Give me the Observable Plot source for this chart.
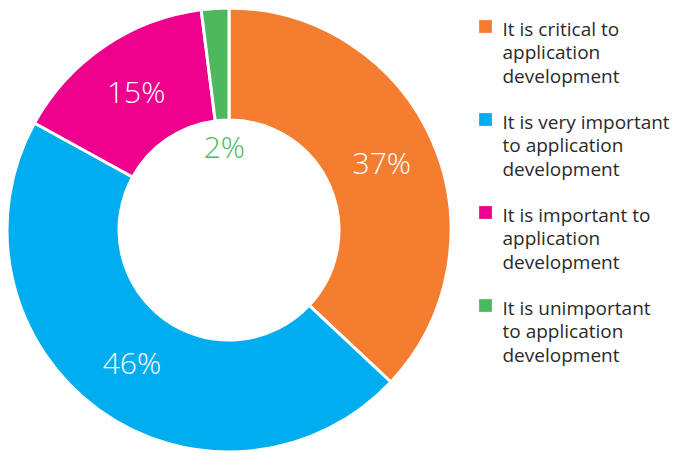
<!DOCTYPE html>
<html><head><meta charset="utf-8">
<script src="https://cdn.jsdelivr.net/npm/d3@7"></script>
<script src="https://cdn.jsdelivr.net/npm/@observablehq/plot@0.6"></script>
<style>html,body{margin:0;padding:0;background:#fff;overflow:hidden}</style>
</head><body><div id="chart"></div>
<script>
// ---- data ----
const categories = [
  "It is critical to application development",
  "It is very important to application development",
  "It is important to application development",
  "It is unimportant to application development"
];
const legendLabels = [
  "It is critical to\napplication\ndevelopment",
  "It is very important\nto application\ndevelopment",
  "It is important to\napplication\ndevelopment",
  "It is unimportant\nto application\ndevelopment"
];
const values = [37, 46, 15, 2];
const colors = ["#F47D30", "#00AEEF", "#EC008C", "#4DB85E"];

// ---- layout ----
const W = 682, H = 453;
const cx = 229, cy = 230, R = 222, r = 110;
const legendX = 485, legendTop = 26, legendStep = 93;

const data = categories.map((c, i) => ({category: c, value: values[i], legend: legendLabels[i], i}));
const arcs = d3.pie().sort(null).value(d => d.value)(data);
const arcGen = d3.arc().innerRadius(r).outerRadius(R);
const labelArc = d3.arc().innerRadius(r * 0.75).outerRadius(r * 0.75);
arcs.forEach(a => {
  const inside = a.data.value < 5;
  const [lx, ly] = (inside ? labelArc : arcGen).centroid(a);
  a.data.lx = cx + lx; a.data.ly = cy + ly; a.data.inside = inside;
  a.data.label = a.data.value + "%";
  a.data.ly0 = legendTop + a.data.i * legendStep;
});

function donut(index, scales) {
  const g = d3.create("svg:g")
    .attr("transform", `translate(${scales.x(cx)},${scales.y(cy)})`);
  g.selectAll("path").data(arcs).join("path")
    .attr("d", arcGen)
    .attr("fill", d => scales.color ? scales.color(d.data.category) : colors[d.data.i])
    .attr("stroke", "#fff")
    .attr("stroke-width", 3)
    .attr("stroke-linejoin", "round");
  return g.node();
}

const chart = Plot.plot({
  width: W, height: H, margin: 0,
  style: {fontFamily: "'Open Sans', sans-serif", background: "#fff"},
  x: {domain: [0, W], range: [0, W], axis: null},
  y: {domain: [0, H], range: [0, H], axis: null},
  color: {domain: categories, range: colors},
  marks: [
    donut,
    Plot.text(data, {filter: d => !d.inside, x: "lx", y: "ly", text: "label", fill: "white",
      fontSize: 30, fontWeight: 300}),
    Plot.text(data, {filter: d => d.inside, x: "lx", y: "ly", text: "label", fill: "category",
      fontSize: 30, fontWeight: 300}),
    Plot.dot(data, {x: () => legendX, y: "ly0", fill: "category", symbol: "square", r: 7.2, stroke: null}),
    Plot.text(data, {x: () => legendX + 17, y: d => d.ly0 - 8, text: "legend", textAnchor: "start",
      lineAnchor: "top", lineHeight: 1.26, fontSize: 19, fill: "#2a2a2a"})
  ]
});
document.getElementById("chart").append(chart);
</script>
</body></html>
